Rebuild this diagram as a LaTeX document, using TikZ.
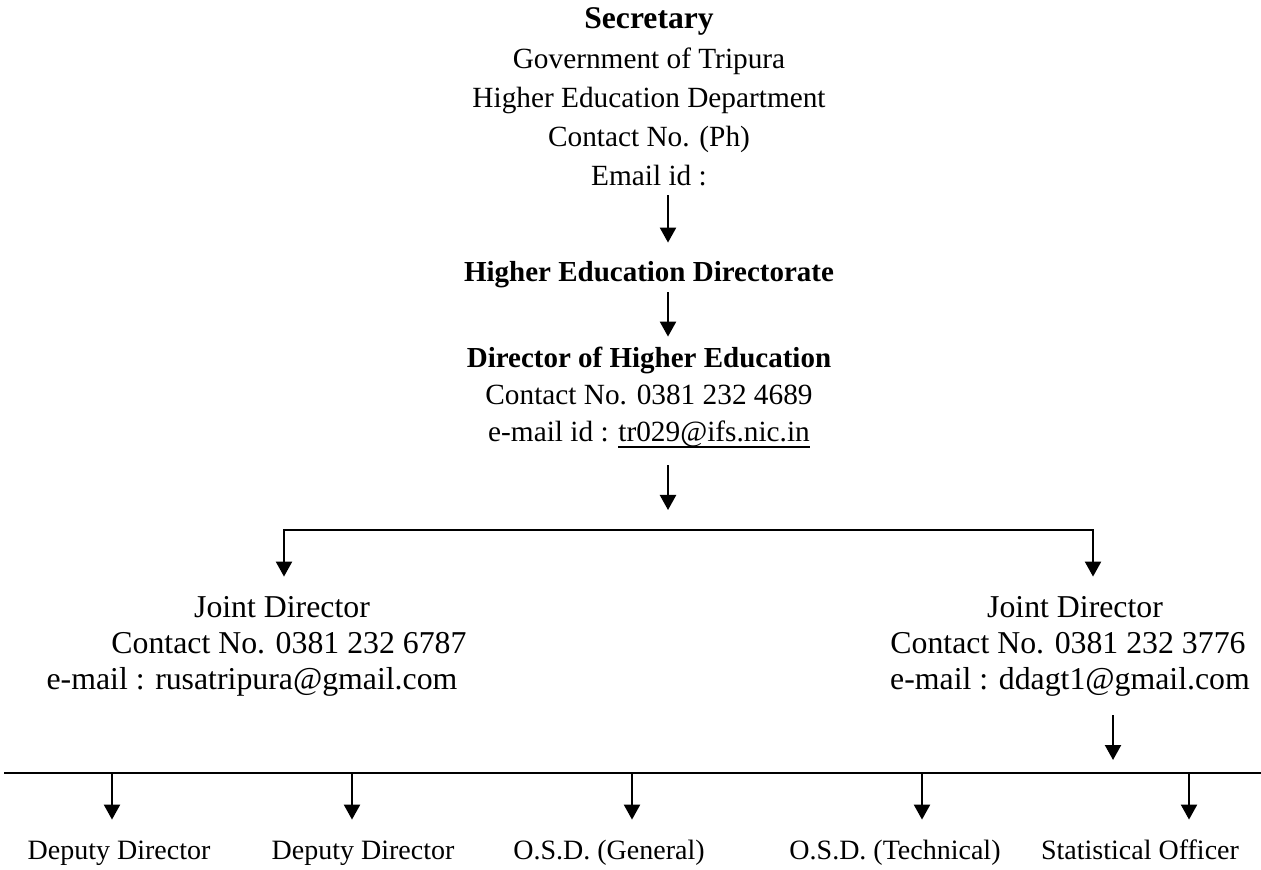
\documentclass[tikz,border=0pt]{standalone}
\usepackage{fontspec}
\setmainfont{Liberation Serif}
\usetikzlibrary{arrows.meta}

\newsavebox\linkbox
\newcommand{\linkul}[1]{\sbox\linkbox{#1}\rlap{\rule[-3pt]{\wd\linkbox}{0.9pt}}\usebox\linkbox}

\tikzset{
    line/.style={inner sep=0pt, anchor=base},
    topline/.style={line, font=\fontsize{14.65}{17}\selectfont, text height=10.3pt, text depth=3.2pt},
    headline/.style={topline, font=\fontsize{14.5}{17}\selectfont\bfseries},
    jdline/.style={line, font=\fontsize{15.9}{18}\selectfont, text height=11.1pt, text depth=3.5pt},
    postline/.style={line, font=\fontsize{14}{16}\selectfont, text height=9.8pt, text depth=3.1pt},
    arr/.style={line width=1.1pt, -{Triangle[length=7.5pt, width=8pt]}},
    bar/.style={line width=1pt}
}

\begin{document}
\begin{tikzpicture}[x=0.5pt, y=-0.5pt]
    \useasboundingbox (0,0) rectangle (1261,870);

    % secretary
    \node[topline, font=\fontsize{15.8}{18}\selectfont\bfseries] (sec) at (649,29) {Secretary};
    \node[topline] (gov) at (649,69) {Government of Tripura};
    \node[topline] (dept) at (649,108) {Higher Education Department};
    \node[topline] (secph) at (649,147) {Contact No. (Ph)};
    \node[topline] (secmail) at (649,186) {Email id :};

    \node[headline] (hed) at (649,282) {Higher Education Directorate};

    % director
    \node[headline] (dhe) at (649,368) {Director of Higher Education};
    \node[topline] (dheph) at (649,405) {Contact No. 0381 232 4689};
    \node[topline] (dhemail) at (649,442) {e-mail id : \linkul{tr029@ifs.nic.in}};

    % joint directors
    \node[jdline] (jdl) at (282,617.5) {Joint Director};
    \node[jdline] (jdlph) at (289,653.5) {Contact No. 0381 232 6787};
    \node[jdline] (jdlmail) at (252,689.5) {e-mail : rusatripura@gmail.com};
    \node[jdline] (jdr) at (1075,617.5) {Joint Director};
    \node[jdline] (jdrph) at (1068,653.5) {Contact No. 0381 232 3776};
    \node[jdline] (jdrmail) at (1070,689.5) {e-mail : ddagt1@gmail.com};

    % officers
    \node[postline] (dd1) at (119,859) {Deputy Director};
    \node[postline] (dd2) at (363,859) {Deputy Director};
    \node[postline] (osdg) at (609,859) {O.S.D. (General)};
    \node[postline] (osdt) at (895,859) {O.S.D. (Technical)};
    \node[postline] (so) at (1140,859) {Statistical Officer};

    \coordinate (ax) at (668,0);
    \coordinate (hub) at (668,530);
    \coordinate (tl) at (284,530);
    \coordinate (tr) at (1093,530);
    \coordinate (bl) at (4,773);
    \coordinate (br) at (1261,773);
    \coordinate (jx) at (1113,773);

    \draw[arr, shorten <=1.3pt, shorten >=9.2pt] (secmail.south -| ax) -- (hed.north -| ax);
    \draw[arr, shorten <=1.8pt, shorten >=5.2pt] (hed.south -| ax) -- (dhe.north -| ax);
    \draw[arr, shorten <=8.3pt, shorten >=10pt] (dhemail.south -| ax) -- (hub);

    \draw[arr, shorten >=9.15pt] (hub) -- (tl) -- (tl |- jdl.north);
    \draw[arr, shorten >=9.15pt] (hub) -- (tr) -- (tr |- jdr.north);

    \draw[arr, shorten <=9.25pt, shorten >=6.5pt] (jdrmail.south -| jx) -- (jx);
    \draw[bar] (bl) -- (br);

    \foreach \px/\lab in {112/dd1, 352/dd2, 632/osdg, 922/osdt, 1189/so}
        \draw[arr, shorten >=9.7pt] (\px,773) -- (\px,773 |- \lab.north);
\end{tikzpicture}
\end{document}
